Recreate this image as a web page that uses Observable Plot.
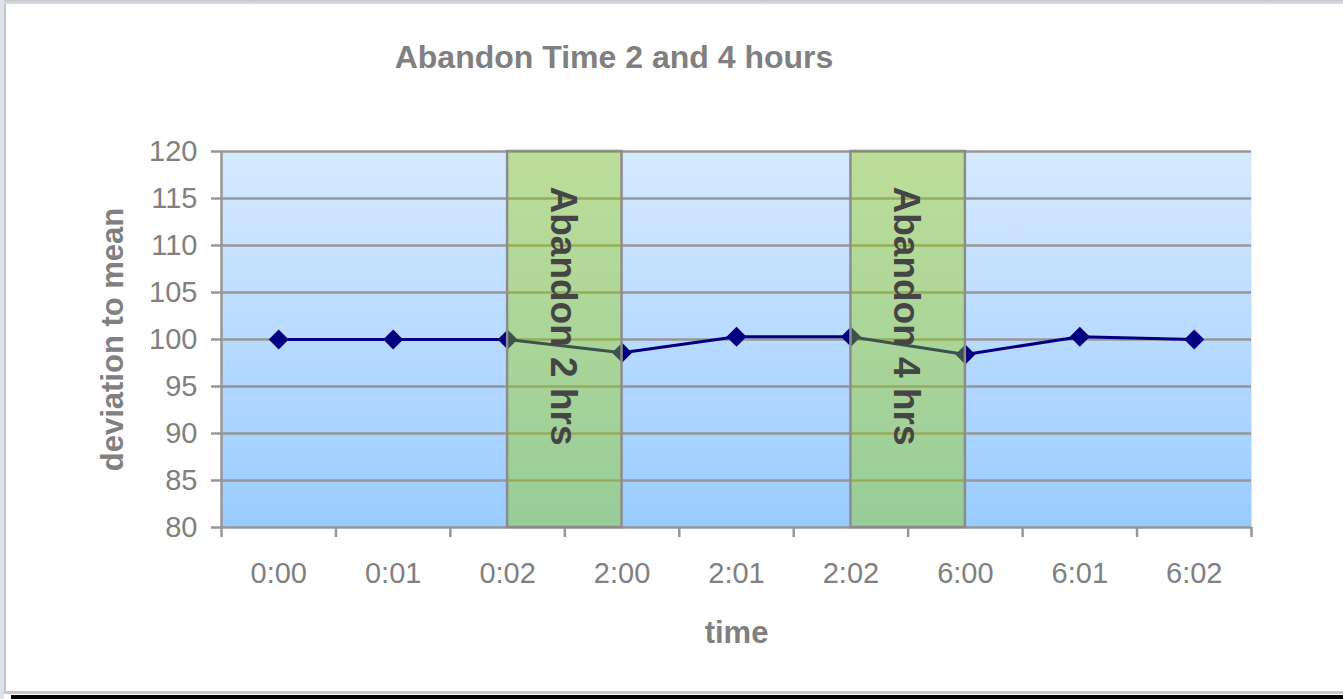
<!DOCTYPE html>
<html>
<head>
<meta charset="utf-8">
<script src="https://cdn.jsdelivr.net/npm/d3@7"></script>
<script src="https://cdn.jsdelivr.net/npm/@observablehq/plot@0.6"></script>
<style>
  body { margin: 0; background: #fff; font-family: "Liberation Sans", Arial, sans-serif; }
  #page { position: relative; width: 1343px; height: 699px; overflow: hidden; background: #fff; }
  #title {
    position: absolute; left: 614px; top: 41px; transform: translateX(-50%);
    white-space: nowrap; font-size: 32px; line-height: 32px; font-weight: bold; color: #808080;
  }
  #chart { position: absolute; left: 0; top: 100px; }
  .edge { position: absolute; }
</style>
</head>
<body>
<div id="page">
  <div class="edge" style="left:0;top:0;width:1343px;height:4px;background:linear-gradient(#c4c7cd,#dcdee3)"></div>
  <div class="edge" style="left:0;top:0;width:4px;height:699px;background:#dde1ea"></div>
  <div class="edge" style="left:4px;top:4px;width:2px;height:688px;background:#c4c4c4"></div>
  <div class="edge" style="left:4px;top:691px;width:1339px;height:3px;background:#c8c8c8"></div>
  <div class="edge" style="left:11px;top:695px;width:1332px;height:4px;background:#000"></div>
  <div id="title">Abandon Time 2 and 4 hours</div>
  <div id="chart"></div>
</div>
<svg width="0" height="0" style="position:absolute">
  <defs>
    <linearGradient id="plotBg" x1="0" y1="0" x2="0" y2="1">
      <stop offset="0" stop-color="#d7e9ff"/>
      <stop offset="1" stop-color="#99ccff"/>
    </linearGradient>
  </defs>
</svg>
<script>
// Sample times (category labels on the x axis)
const times = ["0:00", "0:01", "0:02", "2:00", "2:01", "2:02", "6:00", "6:01", "6:02"];
// Deviation to mean at each sample
const deviation = [100, 100, 100, 98.6, 100.3, 100.3, 98.4, 100.3, 100];
// Y axis tick values
const yTicks = [80, 85, 90, 95, 100, 105, 110, 115, 120];
// Abandon windows: start sample, end sample, label
const abandonStart = ["0:02", "2:02"];
const abandonEnd = ["2:00", "6:00"];
const abandonLabels = ["Abandon 2 hrs", "Abandon 4 hrs"];

const yMin = yTicks[0];
const yMax = yTicks[yTicks.length - 1];
const points = times.map((t, i) => ({ i, t, v: deviation[i] }));
// category boundaries, where the x-axis tick marks sit
const bounds = d3.range(times.length + 1).map(i => i - 0.5);
const windows = abandonLabels.map((label, k) => ({
  label,
  x1: times.indexOf(abandonStart[k]),
  x2: times.indexOf(abandonEnd[k])
}));

const axisGray = "#979797";
const textGray = "#808080";
const font = "'Liberation Sans', Arial, sans-serif";

const chart = Plot.plot({
  width: 1343,
  height: 590,
  marginLeft: 221,
  marginRight: 92,
  marginTop: 51,
  marginBottom: 163,
  style: { fontFamily: font, background: "transparent", overflow: "visible" },
  x: { domain: [-0.5, times.length - 0.5], axis: null },
  y: { domain: [yMin, yMax], axis: null },
  marks: [
    Plot.frame({ fill: "url(#plotBg)", stroke: "none" }),
    Plot.gridY(yTicks.slice(1), { stroke: axisGray, strokeOpacity: 1, strokeWidth: 2.5 }),
    Plot.ruleY([yMin], { stroke: axisGray, strokeWidth: 2.5 }),
    Plot.ruleX([bounds[0]], { stroke: axisGray, strokeWidth: 2.5 }),
    Plot.axisY({
      ticks: yTicks, tickSize: 10, tickPadding: 14, fontSize: 29,
      fill: textGray, stroke: axisGray, strokeWidth: 2.5, label: null
    }),
    Plot.axisX({
      ticks: bounds, tickSize: 10, tickFormat: () => "",
      stroke: axisGray, strokeWidth: 2.5, label: null
    }),
    Plot.axisX({
      ticks: d3.range(times.length), tickSize: 0, tickPadding: 35,
      tickFormat: i => times[i], fontSize: 29, fill: textGray, label: null
    }),
    Plot.line(points, { x: "i", y: "v", stroke: "#000080", strokeWidth: 3 }),
    Plot.dot(points, { x: "i", y: "v", symbol: "diamond2", r: 9, fill: "#000080", stroke: "none" }),
    // translucent abandon windows laid over the series
    Plot.rect(windows, { x1: "x1", x2: "x2", y1: yMin, y2: yMax, fill: "#96cc00", fillOpacity: 0.4 }),
    Plot.rect(windows, { x1: "x1", x2: "x2", y1: yMin, y2: yMax, fill: "none", stroke: "#8c8c8c", strokeWidth: 2.5 }),
    Plot.text(windows, {
      x: d => (d.x1 + d.x2) / 2, y: yMax, text: "label",
      rotate: 90, textAnchor: "start", lineAnchor: "middle", dy: 35, dx: -2,
      fontSize: 37, fontWeight: "bold", fill: "#454545"
    }),
    Plot.text(["deviation to mean"], {
      text: d => d, frameAnchor: "left", rotate: -90, dx: -108,
      textAnchor: "middle", lineAnchor: "middle",
      fontSize: 31, fontWeight: "bold", fill: textGray
    }),
    Plot.text(["time"], {
      text: d => d, frameAnchor: "bottom", dy: 106,
      textAnchor: "middle", lineAnchor: "middle",
      fontSize: 31, fontWeight: "bold", fill: textGray
    })
  ]
});

document.getElementById("chart").appendChild(chart);
</script>
</body>
</html>
